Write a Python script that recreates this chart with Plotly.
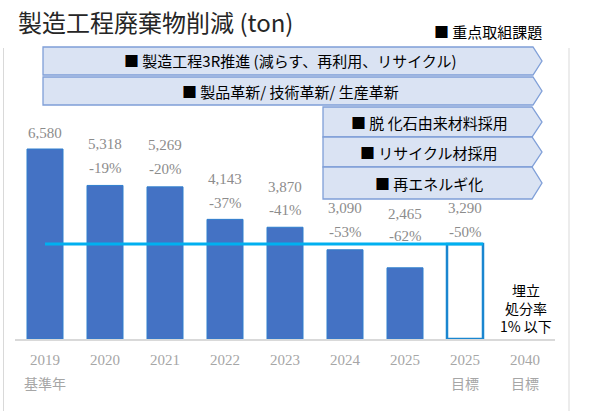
import plotly.graph_objects as go

# data
years = ["2019", "2020", "2021", "2022", "2023", "2024", "2025", "2025", "2040"]
sublabels = ["基準年", "", "", "", "", "", "", "目標", "目標"]
actual = [6580, 5318, 5269, 4143, 3870, 3090, 2465]
target_2025 = 3290
pct_labels = ["", "-19%", "-20%", "-37%", "-41%", "-53%", "-62%", "-50%"]
initiatives_wide = ["■ 製造工程3R推進 (減らす、再利用、リサイクル)", "■ 製品革新/ 技術革新/ 生産革新"]
initiatives_narrow = ["■ 脱 化石由来材料採用", "■ リサイクル材採用", "■ 再エネルギ化"]

# pixel layout of the plot area (599x411 page)
L, T, W, H = 15, 47, 540, 292
def px(x):
    return (x - L) / W
def py(y):
    return (T + H - y) / H

xs = list(range(len(years)))

fig = go.Figure()
fig.add_trace(go.Bar(x=xs[:len(actual)], y=actual, width=0.6,
                     marker=dict(color="#4472c4", line=dict(color="#2f7fce", width=1)),
                     hoverinfo="skip"))
fig.add_trace(go.Bar(x=[xs[7]], y=[target_2025], width=0.6,
                     marker=dict(color="rgba(255,255,255,0)", line=dict(color="#1a86d0", width=2.5)),
                     hoverinfo="skip"))
# target line from 2019 to the right edge of the 2025 target bar
fig.add_trace(go.Scatter(x=[xs[0], xs[7] + 0.3], y=[target_2025, target_2025], mode="lines",
                         line=dict(color="#00b0f0", width=3), hoverinfo="skip"))

serif = "Liberation Serif, Noto Serif CJK JP"
cjk = "Noto Sans CJK JP"

# value / percent labels above bars (pixel offsets tweaked to match)
all_vals = actual + [target_2025]
val_shift = [16, 41, 42, 40, 40, 42, 54, 36]
pct_shift = [0, 17, 18, 16, 17, 18, 32, 12]
lab_font = dict(family=serif, size=15, color="#8c8c8c")
annotations = []
for i, v in enumerate(all_vals):
    annotations.append(dict(x=xs[i], y=v, text=f"{v:,}", showarrow=False, yanchor="middle",
                            yshift=val_shift[i], font=lab_font))
    if pct_labels[i]:
        annotations.append(dict(x=xs[i], y=v, text=pct_labels[i], showarrow=False, yanchor="middle",
                                yshift=pct_shift[i], font=lab_font))

# second line of the category labels
for i, s in enumerate(sublabels):
    if s:
        annotations.append(dict(x=xs[i], y=py(383), yref="paper", text=s, showarrow=False,
                                xanchor="center", yanchor="middle",
                                font=dict(family=cjk, size=14, color="#a6a6a6")))

def note(x, y, text, size, color="black", xanchor="center"):
    annotations.append(dict(x=px(x), y=py(y), xref="paper", yref="paper", text=text,
                            showarrow=False, xanchor=xanchor, yanchor="middle",
                            font=dict(family=cjk, size=size, color=color)))

note(526, 308, "埋立<br>処分率<br>1% 以下", 14)
note(16, 22, "製造工程廃棄物削減 (ton)", 24, "#262626", "left")
note(432, 32, "■ 重点取組課題", 15, xanchor="left")

# chevron boxes
shapes = []
def chevron(x0, x1, xt, y0, y1):
    ym = (y0 + y1) / 2
    path = (f"M {px(x0)},{py(y0)} L {px(x1)},{py(y0)} L {px(xt)},{py(ym)} "
            f"L {px(x1)},{py(y1)} L {px(x0)},{py(y1)} Z")
    return dict(type="path", xref="paper", yref="paper", path=path,
                fillcolor="#dae3f3", line=dict(color="#7f9fd8", width=1.3), layer="above")

wide_rows = [(47, 75), (77, 105)]
for (y0, y1), txt in zip(wide_rows, initiatives_wide):
    shapes.append(chevron(43, 533, 542, y0, y1))
    note(290, (y0 + y1) / 2, txt, 15)
narrow_rows = [(107, 137), (137, 167), (167, 199)]
for (y0, y1), txt in zip(narrow_rows, initiatives_narrow):
    shapes.append(chevron(323, 532, 542, y0, y1))
    note(429, (y0 + y1) / 2, txt, 15)

# grey frame lines
for fx in (3.5, 569):
    shapes.append(dict(type="line", xref="paper", yref="paper", x0=px(fx), x1=px(fx),
                       y0=py(48), y1=py(411), line=dict(color="#d9d9d9", width=1)))

fig.update_layout(
    width=599, height=411,
    margin=dict(l=L, r=599 - L - W, t=T, b=411 - T - H),
    plot_bgcolor="white", paper_bgcolor="white",
    showlegend=False, barmode="overlay",
    xaxis=dict(range=[-0.5, 8.5], tickvals=xs, ticktext=years, showgrid=False,
               showline=True, linecolor="#d9d9d9", linewidth=1.5, ticks="", ticklabelstandoff=6,
               tickfont=dict(family=serif, size=15, color="#a6a6a6")),
    yaxis=dict(range=[0, H * 6580 / 190], visible=False, showgrid=False),
    annotations=annotations, shapes=shapes,
)

fig.write_html("out.html", config={"displayModeBar": False},
               post_script="document.body.style.margin='0';")
